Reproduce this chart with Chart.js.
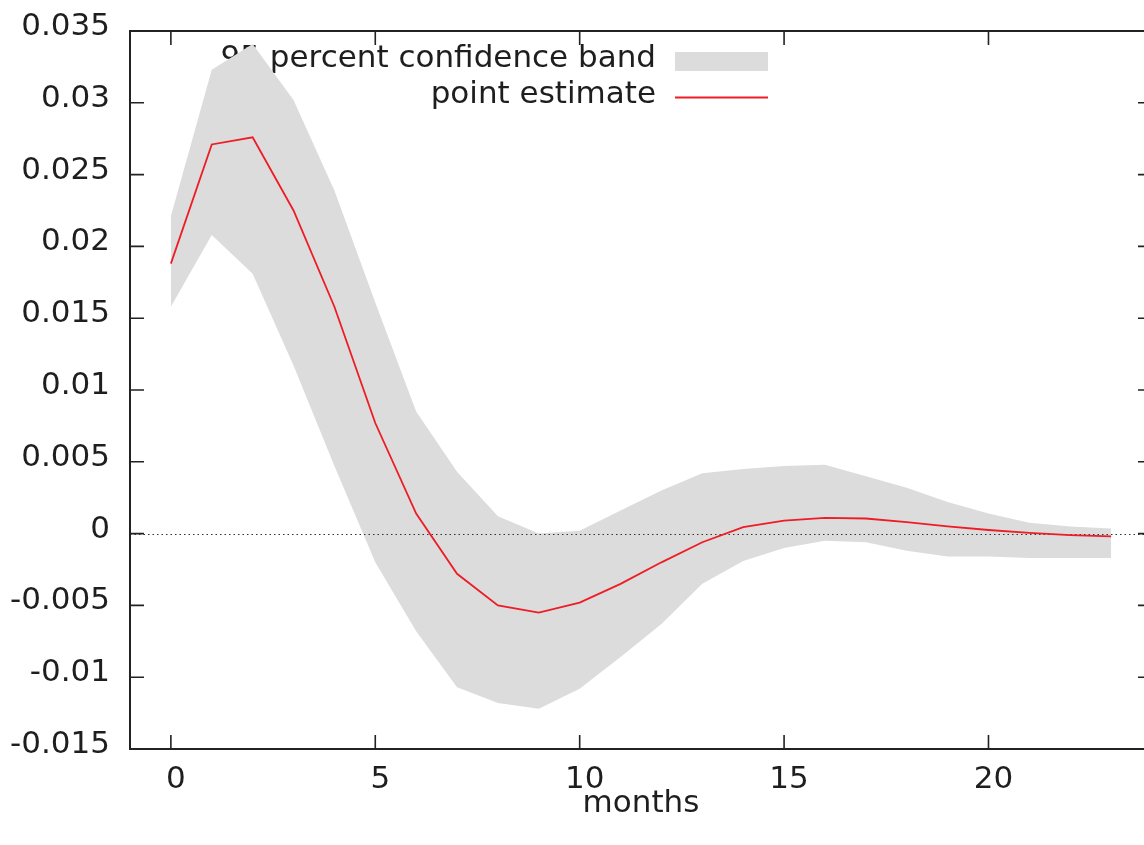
<!DOCTYPE html>
<html>
<head>
<meta charset="utf-8">
<script src="https://cdn.jsdelivr.net/npm/chart.js@4"></script>
<style>
  html, body { margin: 0; padding: 0; background: #fff; overflow: hidden; }
  #wrap { width: 1160px; height: 845px; }
</style>
</head>
<body>
<div id="wrap"><canvas id="c" width="1160" height="845"></canvas></div>
<script>
// ---- data ----
const months = [0,1,2,3,4,5,6,7,8,9,10,11,12,13,14,15,16,17,18,19,20,21,22,23];
const pointEstimate = [0.0188, 0.0271, 0.0276, 0.0225, 0.0158, 0.0077, 0.0014, -0.0028, -0.0050, -0.0055,
  -0.0048, -0.0035, -0.0020, -0.0006, 0.00045, 0.0009, 0.0011, 0.00105, 0.0008, 0.0005,
  0.00025, 0.00005, -0.0001, -0.0002];
const upperBand = [0.0221, 0.0323, 0.0341, 0.0302, 0.0239, 0.0161, 0.0085, 0.0043, 0.0012, 0.0000,
  0.0002, 0.0016, 0.0030, 0.0042, 0.0045, 0.0047, 0.0048, 0.0040, 0.0032, 0.0022,
  0.0014, 0.00075, 0.0005, 0.00035];
const lowerBand = [0.0158, 0.0208, 0.0181, 0.0117, 0.0047, -0.0020, -0.0068, -0.0107, -0.0118, -0.0122,
  -0.0108, -0.0086, -0.0063, -0.0035, -0.0019, -0.0010, -0.0005, -0.0006, -0.0012, -0.0016,
  -0.0016, -0.0017, -0.0017, -0.0017];
const xTickValues = [0, 5, 10, 15, 20];
const yTickValues = [-0.015, -0.01, -0.005, 0, 0.005, 0.01, 0.015, 0.02, 0.025, 0.03, 0.035];
const yTickLabels = ['-0.015', '-0.01', '-0.005', '0', '0.005', '0.01', '0.015', '0.02', '0.025', '0.03', '0.035'];
const xRange = [-1, 24];
const yRange = [-0.015, 0.035];
const legendLabels = ['95 percent confidence band', 'point estimate'];
const xTitle = 'months';

// ---- style ----
const FONT = '"DejaVu Sans", Verdana, sans-serif';
const FSIZE = 31;
const TEXT = '#1e1e1e';
const BAND = '#dcdcdc';
const RED = '#ee1c25';

const toXY = ys => months.map((m, i) => ({ x: m, y: ys[i] }));

const gnuplotDecor = {
  id: 'gnuplotDecor',
  beforeDatasetsDraw(chart) {
    // legend text (drawn under the band, as in the reference)
    const ctx = chart.ctx;
    ctx.save();
    ctx.font = FSIZE + 'px ' + FONT;
    ctx.fillStyle = TEXT;
    ctx.textAlign = 'right';
    ctx.textBaseline = 'middle';
    ctx.fillText(legendLabels[0], 656, 59);
    ctx.fillText(legendLabels[1], 656, 95);
    ctx.fillStyle = BAND;
    ctx.fillRect(675, 52, 93, 19);
    ctx.strokeStyle = RED;
    ctx.lineWidth = 1.8;
    ctx.beginPath();
    ctx.moveTo(675, 97.5);
    ctx.lineTo(768, 97.5);
    ctx.stroke();
    ctx.restore();
  },
  beforeDatasetDraw(chart, args) {
    if (args.index !== 0) return;
    // dotted zero axis over the band, under the point estimate
    const { ctx, chartArea: a, scales: { y } } = chart;
    const py = Math.round(y.getPixelForValue(0)) + 0.5;
    ctx.save();
    ctx.strokeStyle = '#333';
    ctx.lineWidth = 1.2;
    ctx.setLineDash([1.5, 3]);
    ctx.beginPath();
    ctx.moveTo(a.left, py);
    ctx.lineTo(a.right, py);
    ctx.stroke();
    ctx.restore();
  },
  afterDatasetsDraw(chart) {
    const { ctx, chartArea: a, scales: { x, y } } = chart;
    const tl = 14;
    ctx.save();
    ctx.strokeStyle = '#222';
    ctx.lineWidth = 1.6;
    ctx.beginPath();
    x.ticks.forEach(t => {
      const px = x.getPixelForValue(t.value);
      ctx.moveTo(px, a.bottom); ctx.lineTo(px, a.bottom - tl);
      ctx.moveTo(px, a.top); ctx.lineTo(px, a.top + tl);
    });
    y.ticks.forEach(t => {
      const py = y.getPixelForValue(t.value);
      ctx.moveTo(a.left, py); ctx.lineTo(a.left + tl, py);
      ctx.moveTo(a.right, py); ctx.lineTo(a.right - tl, py);
    });
    ctx.stroke();
    ctx.lineWidth = 2;
    ctx.strokeRect(a.left, a.top, a.right - a.left, a.bottom - a.top);
    ctx.restore();
  }
};

new Chart(document.getElementById('c'), {
  type: 'line',
  data: {
    datasets: [
      { label: legendLabels[1], data: toXY(pointEstimate), borderColor: RED, borderWidth: 1.8,
        pointRadius: 0, fill: false, tension: 0 },
      { label: legendLabels[0], data: toXY(upperBand), borderWidth: 0, borderColor: 'rgba(0,0,0,0)',
        backgroundColor: BAND, pointRadius: 0, fill: '+1', tension: 0 },
      { label: 'lower', data: toXY(lowerBand), borderWidth: 0, borderColor: 'rgba(0,0,0,0)',
        pointRadius: 0, fill: false, tension: 0 }
    ]
  },
  options: {
    responsive: false,
    animation: false,
    events: [],
    layout: { padding: { top: 31, right: 8, left: 0, bottom: 0 } },
    plugins: { legend: { display: false }, tooltip: { enabled: false } },
    scales: {
      x: {
        type: 'linear', min: xRange[0], max: xRange[1],
        grid: { display: false, drawTicks: false },
        border: { display: false },
        afterBuildTicks: s => { s.ticks = xTickValues.map(v => ({ value: v })); },
        afterFit: s => { s.height = 96; s.paddingLeft = 0; s.paddingRight = 0; },
        ticks: { font: { family: FONT, size: FSIZE }, color: TEXT, padding: 12, labelOffset: 5,
          maxRotation: 0, autoSkip: false, callback: v => String(v) },
        title: { display: true, text: xTitle, font: { family: FONT, size: FSIZE }, color: TEXT,
          padding: { top: 0, bottom: 22 } }
      },
      y: {
        type: 'linear', min: yRange[0], max: yRange[1],
        grid: { display: false, drawTicks: false },
        border: { display: false },
        afterBuildTicks: s => { s.ticks = yTickValues.map(v => ({ value: v })); },
        afterFit: s => { s.width = 130; s.paddingTop = 0; s.paddingBottom = 0; },
        ticks: { font: { family: FONT, size: FSIZE }, color: TEXT, padding: 20, labelOffset: -4,
          autoSkip: false, callback: v => yTickLabels[yTickValues.findIndex(t => Math.abs(t - v) < 1e-9)] }
      }
    }
  },
  plugins: [gnuplotDecor]
});
</script>
</body>
</html>
